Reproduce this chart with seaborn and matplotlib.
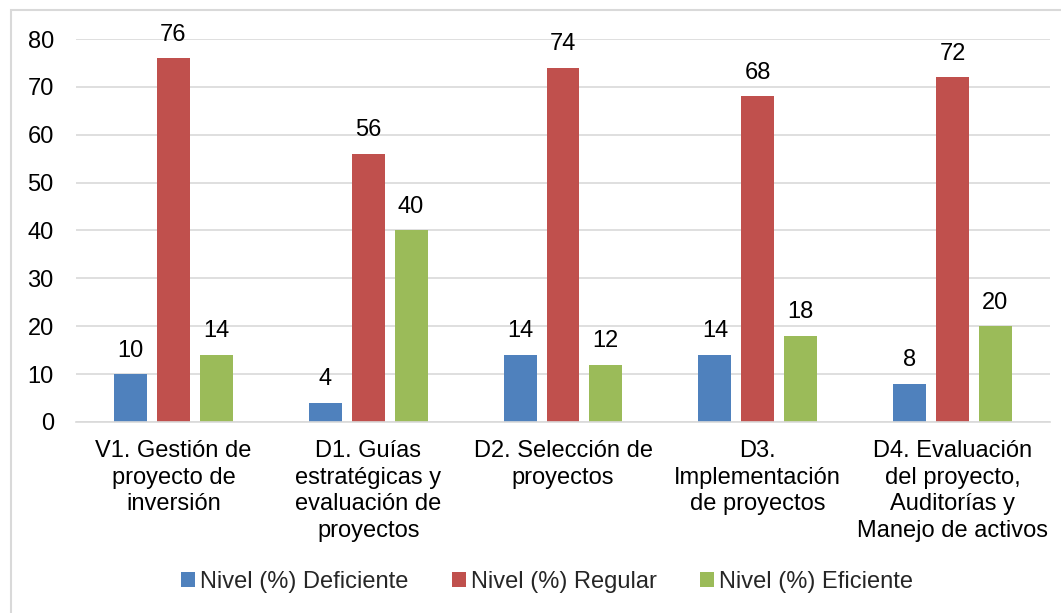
import matplotlib
matplotlib.use("Agg")
import matplotlib.pyplot as plt
import seaborn as sns
import pandas as pd
from matplotlib.patches import Rectangle

categories = [
    "V1. Gestión de\nproyecto de\ninversión",
    "D1. Guías\nestratégicas y\nevaluación de\nproyectos",
    "D2. Selección de\nproyectos",
    "D3.\nImplementación\nde proyectos",
    "D4. Evaluación\ndel proyecto,\nAuditorías y\nManejo de activos",
]
series = ["Nivel (%) Deficiente", "Nivel (%) Regular", "Nivel (%) Eficiente"]
deficiente = [10, 4, 14, 14, 8]
regular = [76, 56, 74, 68, 72]
eficiente = [14, 40, 12, 18, 20]
colors = ["#4F81BD", "#C0504D", "#9BBB59"]
yticks = [0, 10, 20, 30, 40, 50, 60, 70, 80]

rows = []
for name, vals in zip(series, [deficiente, regular, eficiente]):
    for c, v in zip(categories, vals):
        rows.append({"cat": c, "serie": name, "valor": v})
df = pd.DataFrame(rows)

sns.set_theme(style="white")
plt.rcParams["font.family"] = ["Liberation Sans", "DejaVu Sans"]

FS = 17

fig = plt.figure(figsize=(10.61, 6.13), dpi=100)
ax = fig.add_axes([76 / 1061, 1 - 422 / 613, 974 / 1061, 383 / 613])

sns.barplot(data=df, x="cat", y="valor", hue="serie", order=categories,
            hue_order=series, palette=colors, width=0.66, gap=0.23,
            saturation=1, linewidth=0, ax=ax, legend=True)

for cont in ax.containers:
    ax.bar_label(cont, padding=9, fontsize=FS, color="#000000")

ax.set_ylim(0, 80)
ax.set_xlim(-0.5, 4.5)
ax.set_yticks(yticks)
ax.set_yticklabels([str(t) for t in yticks], fontsize=FS)
ax.tick_params(axis="y", length=0, pad=16)
ax.tick_params(axis="x", length=0, pad=13)
for lbl in ax.get_xticklabels():
    lbl.set_fontsize(FS)
    lbl.set_linespacing(1.27)
    lbl.set_color("#000000")
for lbl in ax.get_yticklabels():
    lbl.set_color("#000000")
ax.set_xlabel("")
ax.set_ylabel("")
ax.yaxis.grid(True, color="#D9D9D9", linewidth=1.2)
ax.set_axisbelow(True)
for s in ["top", "right", "left"]:
    ax.spines[s].set_visible(False)
ax.spines["bottom"].set_color("#D9D9D9")
ax.spines["bottom"].set_linewidth(1.2)

handles, labels = ax.get_legend_handles_labels()
ax.legend_.remove()
fig.legend(handles, labels, loc="center", bbox_to_anchor=(547 / 1061, 1 - 582 / 613),
           ncol=3, frameon=False, fontsize=FS, handlelength=0.6, handleheight=0.6,
           handletextpad=0.2, columnspacing=1.85)

fig.patches.append(Rectangle((11 / 1061, -0.01), 1.0, 1 - 10 / 613 + 0.01,
                             transform=fig.transFigure, fill=False,
                             edgecolor="#D9D9D9", linewidth=1.5))

fig.savefig("out.png", dpi=100)
